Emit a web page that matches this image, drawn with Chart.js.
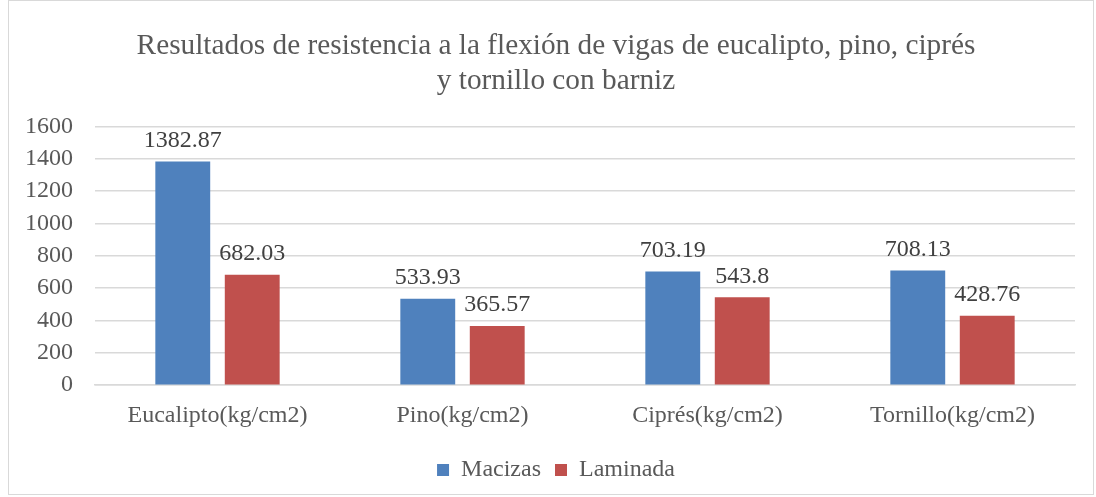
<!DOCTYPE html>
<html>
<head>
<meta charset="utf-8">
<script src="https://cdn.jsdelivr.net/npm/chart.js@4"></script>
<style>
    body { margin: 0; background: #fff; }
    #wrap { position: absolute; left: 8px; top: 0; width: 1086px; height: 495px; border: 1px solid #d9d9d9; box-sizing: border-box; }
    canvas { display: block; }
</style>
</head>
<body>
<div id="wrap"><canvas id="chart"></canvas></div>
<script>
// Chart data
const categories = ['Eucalipto(kg/cm2)', 'Pino(kg/cm2)', 'Ciprés(kg/cm2)', 'Tornillo(kg/cm2)'];
const macizas = [1382.87, 533.93, 703.19, 708.13];
const laminada = [682.03, 365.57, 543.8, 428.76];
const yTicks = [0, 200, 400, 600, 800, 1000, 1200, 1400, 1600];

const serif = '"Liberation Serif", "Times New Roman", serif';

// Draw value labels above each bar
const valueLabels = {
    id: 'valueLabels',
    afterDatasetsDraw(chart) {
        const ctx = chart.ctx;
        ctx.save();
        ctx.font = '24px ' + serif;
        ctx.fillStyle = '#404040';
        ctx.textAlign = 'center';
        ctx.textBaseline = 'bottom';
        chart.data.datasets.forEach((ds, i) => {
            chart.getDatasetMeta(i).data.forEach((bar, j) => {
                ctx.fillText(String(ds.data[j]), bar.x, bar.y - 9);
            });
        });
        ctx.restore();
    }
};

// Nudge title and legend a little to the right, like the original
const centerShift = {
    id: 'centerShift',
    afterLayout(chart) {
        if (chart.titleBlock) chart.titleBlock.left += 20;
        if (chart.legend) chart.legend.left += 20;
    }
};

new Chart(document.getElementById('chart'), {
    type: 'bar',
    data: {
        labels: categories,
        datasets: [{
            label: 'Macizas',
            data: macizas,
            backgroundColor: '#4F81BD',
            categoryPercentage: 0.567,
            barPercentage: 0.79
        }, {
            label: 'Laminada',
            data: laminada,
            backgroundColor: '#C0504D',
            categoryPercentage: 0.567,
            barPercentage: 0.79
        }]
    },
    options: {
        responsive: true,
        maintainAspectRatio: false,
        animation: false,
        layout: { padding: { left: 8, right: 18, top: 0, bottom: 2 } },
        plugins: {
            title: {
                display: true,
                text: ['Resultados de resistencia a la flexión de vigas de eucalipto, pino, ciprés', 'y tornillo con barniz'],
                color: '#595959',
                font: { family: serif, size: 29.3, weight: 'normal' },
                padding: { top: 28, bottom: 27 },
                lineHeight: 1.2
            },
            legend: {
                position: 'bottom',
                labels: {
                    color: '#595959',
                    font: { family: serif, size: 24 },
                    boxWidth: 12,
                    boxHeight: 12,
                    padding: 14
                }
            },
            tooltip: { enabled: false }
        },
        scales: {
            x: {
                grid: { display: false },
                border: { color: '#d9d9d9', width: 1.5 },
                ticks: { color: '#595959', font: { family: serif, size: 24 }, padding: 8 },
                afterFit: scale => { scale.height += 6; }
            },
            y: {
                min: 0,
                max: 1600,
                afterBuildTicks: axis => { axis.ticks = yTicks.map(v => ({ value: v })); },
                afterFit: scale => { scale.width = 78; },
                grid: { color: '#d9d9d9', lineWidth: 1.5, drawTicks: false },
                border: { display: false },
                ticks: {
                    color: '#595959',
                    font: { family: serif, size: 24 },
                    padding: 22,
                    callback: v => String(v)
                }
            }
        }
    },
    plugins: [valueLabels, centerShift]
});
</script>
</body>
</html>
